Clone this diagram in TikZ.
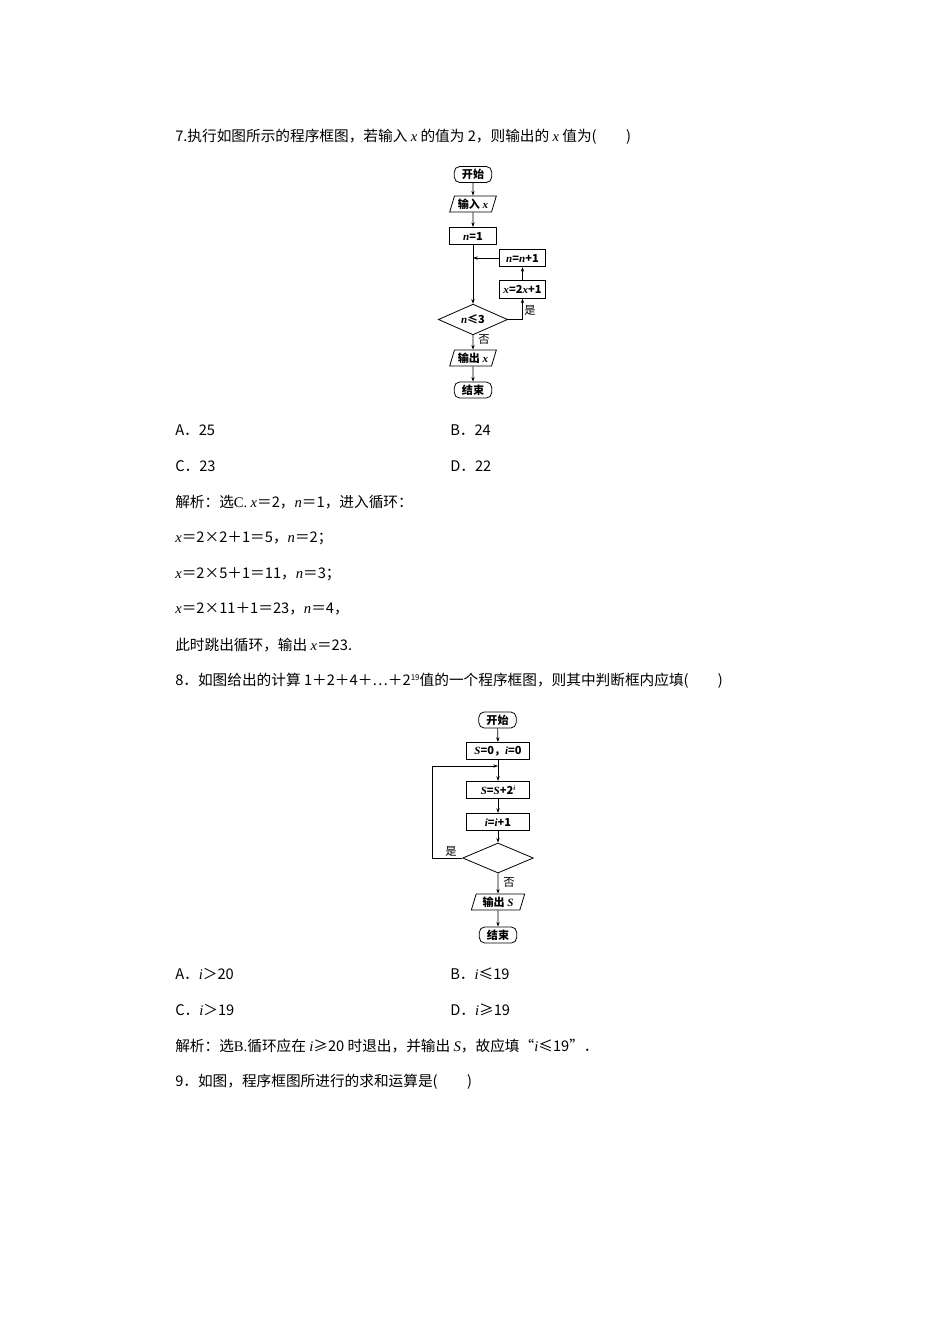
\documentclass[tikz,border=0pt]{standalone}
\usepackage{fontspec}
\setmainfont{Noto Sans CJK SC}
\newfontfamily\lat{Liberation Serif}
\usetikzlibrary{shapes.geometric,arrows.meta}
\newcommand{\vv}[1]{{\lat\itshape #1}}
\begin{document}
\begin{tikzpicture}[x=0.75pt,y=-0.75pt,
  txt/.style={anchor=west,inner sep=0,font=\fontsize{11}{13}\selectfont},
  fb/.style={draw,line width=0.6pt,font=\fontsize{8.3}{9}\selectfont\bfseries,inner sep=1pt},
  term/.style={fb,rounded corners=4pt,minimum width=28pt,minimum height=12pt},
  proc/.style={fb,minimum width=35pt,minimum height=13pt},
  io/.style={fb,trapezium,trapezium left angle=70,trapezium right angle=110,minimum width=35pt,minimum height=12pt,trapezium stretches body},
  dec/.style={fb,diamond,inner sep=0pt,shape aspect=2.3},
  ar/.style={-{Stealth[length=3.5pt,width=2.5pt]},line width=0.5pt},
  lab/.style={font=\fontsize{8.5}{9}\selectfont,inner sep=0}]
\useasboundingbox (0,0) rectangle (950,1344);
\fill[white] (0,0) rectangle (950,1344);
% Q7 text
\node[txt] (t1) at (175,137) {7.执行如图所示的程序框图，若输入 \vv{x} 的值为 2，则输出的 \vv{x} 值为(\hspace{2em})};
% flowchart 1
\node[term] (s1) at (473,174.5) {开始};
\node[io] (in1) at (473,204) {输入 \vv{x}};
\node[proc] (n1) at (473,236) {\vv{n}=1};
\node[proc] (nn) at (522.5,258) {\vv{n}=\vv{n}+1};
\node[proc] (xx) at (522.5,289.5) {\vv{x}=2\vv{x}+1};
\node[dec,minimum width=52pt,minimum height=23pt] (d1) at (473,319.5) {\vv{n}≤3};
\node[io] (o1) at (473,358) {输出 \vv{x}};
\node[term] (e1) at (473,390) {结束};
\coordinate (m1) at (473,258);
\draw[ar] (s1) -- (in1);
\draw[ar] (in1) -- (n1);
\draw[ar] (n1) -- (d1.north);
\draw[ar] (nn.west) -- (m1);
\draw[ar] (d1.east) -| (xx.south);
\draw[ar] (xx) -- (nn);
\draw[ar] (d1.south) -- (o1);
\draw[ar] (o1) -- (e1);
\node[lab] (y1) at (530,310) {是};
\node[lab] (no1) at (484,340) {否};
% options Q7
\node[txt] (a7) at (175,430) {A．25};
\node[txt] (b7) at (450,430) {B．24};
\node[txt] (c7) at (175,466) {C．23};
\node[txt] (d7) at (450,466) {D．22};
\node[txt] (j1) at (175,502) {解析：选{\lat C.} \vv{x}＝2，\vv{n}＝1，进入循环：};
\node[txt] (j2) at (175,538) {\vv{x}＝2×2＋1＝5，\vv{n}＝2；};
\node[txt] (j3) at (175,574) {\vv{x}＝2×5＋1＝11，\vv{n}＝3；};
\node[txt] (j4) at (175,609) {\vv{x}＝2×11＋1＝23，\vv{n}＝4，};
\node[txt] (j5) at (175,645) {此时跳出循环，输出 \vv{x}＝23.};
% Q8
\node[txt] (t2) at (175,681) {8．如图给出的计算 1＋2＋4＋…＋2\raisebox{0.7ex}{\fontsize{6}{7}\selectfont 19}值的一个程序框图，则其中判断框内应填(\hspace{2em})};
\node[term] (s2) at (497.5,720) {开始};
\node[proc,minimum width=47pt] (init) at (498,751) {\vv{S}=0，\vv{i}=0};
\node[proc,minimum width=47pt] (ss) at (498,790) {\vv{S}=\vv{S}+2\raisebox{0.6ex}{\fontsize{5}{6}\selectfont\vv{i}}};
\node[proc,minimum width=47pt] (ii) at (498,822) {\vv{i}=\vv{i}+1};
\node[dec,minimum width=53pt,minimum height=22.5pt] (d2) at (498,858) {};
\node[io,minimum width=40pt] (o2) at (498,902) {输出 \vv{S}};
\node[term] (e2) at (498,935) {结束};
\coordinate (m2) at (498,766);
\coordinate (l2) at (432,766);
\draw[ar] (s2) -- (init);
\draw[ar] (init) -- (ss);
\draw[ar] (ss) -- (ii);
\draw[ar] (ii) -- (d2.north);
\draw[ar] (d2.west) -| (l2) -- (m2);
\draw[ar] (d2.south) -- (o2);
\draw[ar] (o2) -- (e2);
\node[lab] (y2) at (451,851) {是};
\node[lab] (no2) at (509,883) {否};
\node[txt] (a8) at (175,974) {A．\vv{i}＞20};
\node[txt] (b8) at (450,974) {B．\vv{i}≤19};
\node[txt] (c8) at (175,1010) {C．\vv{i}＞19};
\node[txt] (d8) at (450,1010) {D．\vv{i}≥19};
\node[txt] (j6) at (175,1046) {解析：选{\lat B.}循环应在 \vv{i}≥20 时退出，并输出 \vv{S}，故应填“\vv{i}≤19”．};
\node[txt] (t3) at (175,1082) {9．如图，程序框图所进行的求和运算是(\hspace{2em})};
\end{tikzpicture}
\end{document}
